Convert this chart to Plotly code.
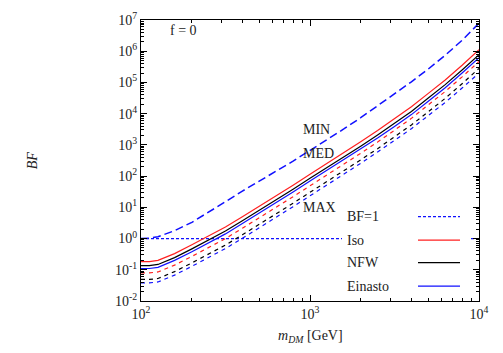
import plotly.graph_objects as go

# dark matter mass grid [GeV]
mass = [100, 112, 126, 158, 200, 251, 316, 398, 501, 631, 794,
        1000, 1259, 1585, 1995, 2512, 3162, 3981, 5012, 6310, 7943, 10000]

# MED propagation (solid)
bf_iso_med = [0.182, 0.182, 0.20, 0.33, 0.63, 1.2, 2.34, 5.0, 10.7, 23.4, 51.3,
              115, 251, 562, 1259, 2884, 6761, 1.66e4, 4.47e4, 1.2e5, 3.55e5, 1.12e6]
bf_nfw_med = [0.135, 0.135, 0.148, 0.245, 0.468, 0.891, 1.74, 3.72, 7.94, 17.4, 38.0,
              85.1, 186, 407, 912, 2089, 4898, 1.17e4, 3.16e4, 8.51e4, 2.51e5, 7.76e5]
bf_ein_med = [0.11, 0.11, 0.12, 0.2, 0.38, 0.724, 1.41, 3.02, 6.46, 14.1, 30.9,
              69.2, 151, 331, 741, 1660, 3890, 9333, 2.51e4, 6.76e4, 2.0e5, 6.17e5]

# MAX propagation (short dashes)
bf_iso_max = [0.0794, 0.0794, 0.0851, 0.141, 0.269, 0.513, 1.0, 2.14, 4.57, 10.0, 21.9,
              49.0, 107, 240, 537, 1230, 2884, 7079, 1.91e4, 5.13e4, 1.51e5, 4.68e5]
bf_nfw_max = [0.049, 0.049, 0.0525, 0.0871, 0.166, 0.316, 0.617, 1.32, 2.82, 6.17, 13.5,
              30.2, 66.1, 148, 331, 759, 1778, 4365, 1.15e4, 3.09e4, 9.12e4, 2.82e5]
bf_ein_max = [0.038, 0.038, 0.0407, 0.0676, 0.129, 0.245, 0.479, 1.02, 2.19, 4.79, 10.5,
              23.4, 51.3, 115, 257, 589, 1380, 3311, 8710, 2.29e4, 6.61e4, 2.0e5]

# MIN propagation (long dashes)
bf_min = [1.0, 1.02, 1.15, 1.78, 3.31, 6.92, 15.1, 33.1, 70.8, 145, 302,
          661, 1445, 3236, 7413, 1.78e4, 4.27e4, 1.05e5, 2.69e5, 7.41e5, 2.24e6, 7.94e6]

bf1_x = [100, 10000]
bf1_y = [1, 1]

x_exps = [2, 3, 4]
y_exps = [-2, -1, 0, 1, 2, 3, 4, 5, 6, 7]

legend_labels = ["BF=1", "Iso", "NFW", "Einasto"]
legend_colors = ["blue", "red", "black", "blue"]
legend_dash = ["3px,2px", "solid", "solid", "solid"]

FONT = "Liberation Serif"
RED, BLK, BLU = "#ff2020", "black", "#1010ff"
COLS = {"red": RED, "black": BLK, "blue": BLU}
SHORT = "4px,4px"

# page is 503x353 but the body has an 8px margin -> figure starts at (8, 8)
OFF = 8
FW, FH = 503 - OFF, 353 - OFF
# plot box in page pixels
L, R, T, B = 141, 479, 19.5, 301
W, H = R - L, B - T


def px(xp):
    return (xp - L) / W


def py(yp):
    return (B - yp) / H


def label(txt, x, y, xanchor="left", **kw):
    fig.add_annotation(x=px(x), y=py(y), xref="paper", yref="paper", text=txt,
                       showarrow=False, xanchor=xanchor, yanchor="middle",
                       font=dict(family=FONT, size=14, color="#222"), **kw)


fig = go.Figure()

fig.add_trace(go.Scatter(x=bf1_x, y=bf1_y, mode="lines",
                         line=dict(color=BLU, width=1.2, dash="3px,2px")))
fig.add_trace(go.Scatter(x=mass, y=bf_min, mode="lines",
                         line=dict(color=BLU, width=1.5, dash="8px,4px")))

for ys, c in [(bf_iso_max, RED), (bf_nfw_max, BLK), (bf_ein_max, BLU)]:
    fig.add_trace(go.Scatter(x=mass, y=ys, mode="lines",
                             line=dict(color=c, width=1.2, dash=SHORT)))
for ys, c in [(bf_iso_med, RED), (bf_nfw_med, BLK), (bf_ein_med, BLU)]:
    fig.add_trace(go.Scatter(x=mass, y=ys, mode="lines",
                             line=dict(color=c, width=1.2)))

# ── hand-made gnuplot style key (text left, sample right) ──────────────────
rows_px = [216.5, 240, 262.5, 286]
fig.add_shape(type="rect", xref="paper", yref="paper", layer="above",
              x0=px(342), x1=px(470), y0=py(296), y1=py(206),
              fillcolor="white", line=dict(width=0))
for lab, col, dsh, yy in zip(legend_labels, legend_colors, legend_dash, rows_px):
    label(lab, 345, yy)
    fig.add_shape(type="line", xref="paper", yref="paper", layer="above",
                  x0=px(418), x1=px(460), y0=py(yy), y1=py(yy),
                  line=dict(color=COLS[col], width=1.2, dash=dsh))

# curve family labels
for txt, yy in [("MIN", 129), ("MED", 153), ("MAX", 207.5)]:
    label(txt, 301, yy)
label("f = 0", 168, 30)

# axis titles
label("<i>BF</i>", 32, 160, xanchor="center", textangle=-90)
label("<i>m</i><sub><i>DM</i></sub> [GeV]", 310, 337, xanchor="center")


def minor_vals(exps):
    return [k * 10.0 ** e for e in exps[:-1] for k in range(2, 10)]


axis_common = dict(
    type="log", ticks="inside", ticklen=6, tickcolor="black", tickwidth=1,
    showline=True, linecolor="black", linewidth=1, mirror="allticks",
    showgrid=False, zeroline=False, automargin=False,
    tickfont=dict(family=FONT, size=14, color="#222"),
)

fig.update_layout(
    width=FW, height=FH,
    margin=dict(l=L - OFF, r=503 - R, t=T - OFF, b=353 - B),
    paper_bgcolor="white", plot_bgcolor="white",
    showlegend=False,
    font=dict(family=FONT, size=14, color="#222"),
    xaxis=dict(**axis_common, range=[2, 4],
               tickvals=[10.0 ** e for e in x_exps],
               ticktext=[f"10<sup>{e}</sup>" for e in x_exps],
               minor=dict(ticks="inside", ticklen=3, tickcolor="black",
                          tickvals=minor_vals(x_exps), showgrid=False)),
    yaxis=dict(**axis_common, range=[-2, 7],
               tickvals=[10.0 ** e for e in y_exps],
               ticktext=[f"10<sup>{e}</sup>" for e in y_exps],
               minor=dict(ticks="inside", ticklen=3, tickcolor="black",
                          tickvals=minor_vals(y_exps), showgrid=False)),
)

fig.write_html("out.html")
